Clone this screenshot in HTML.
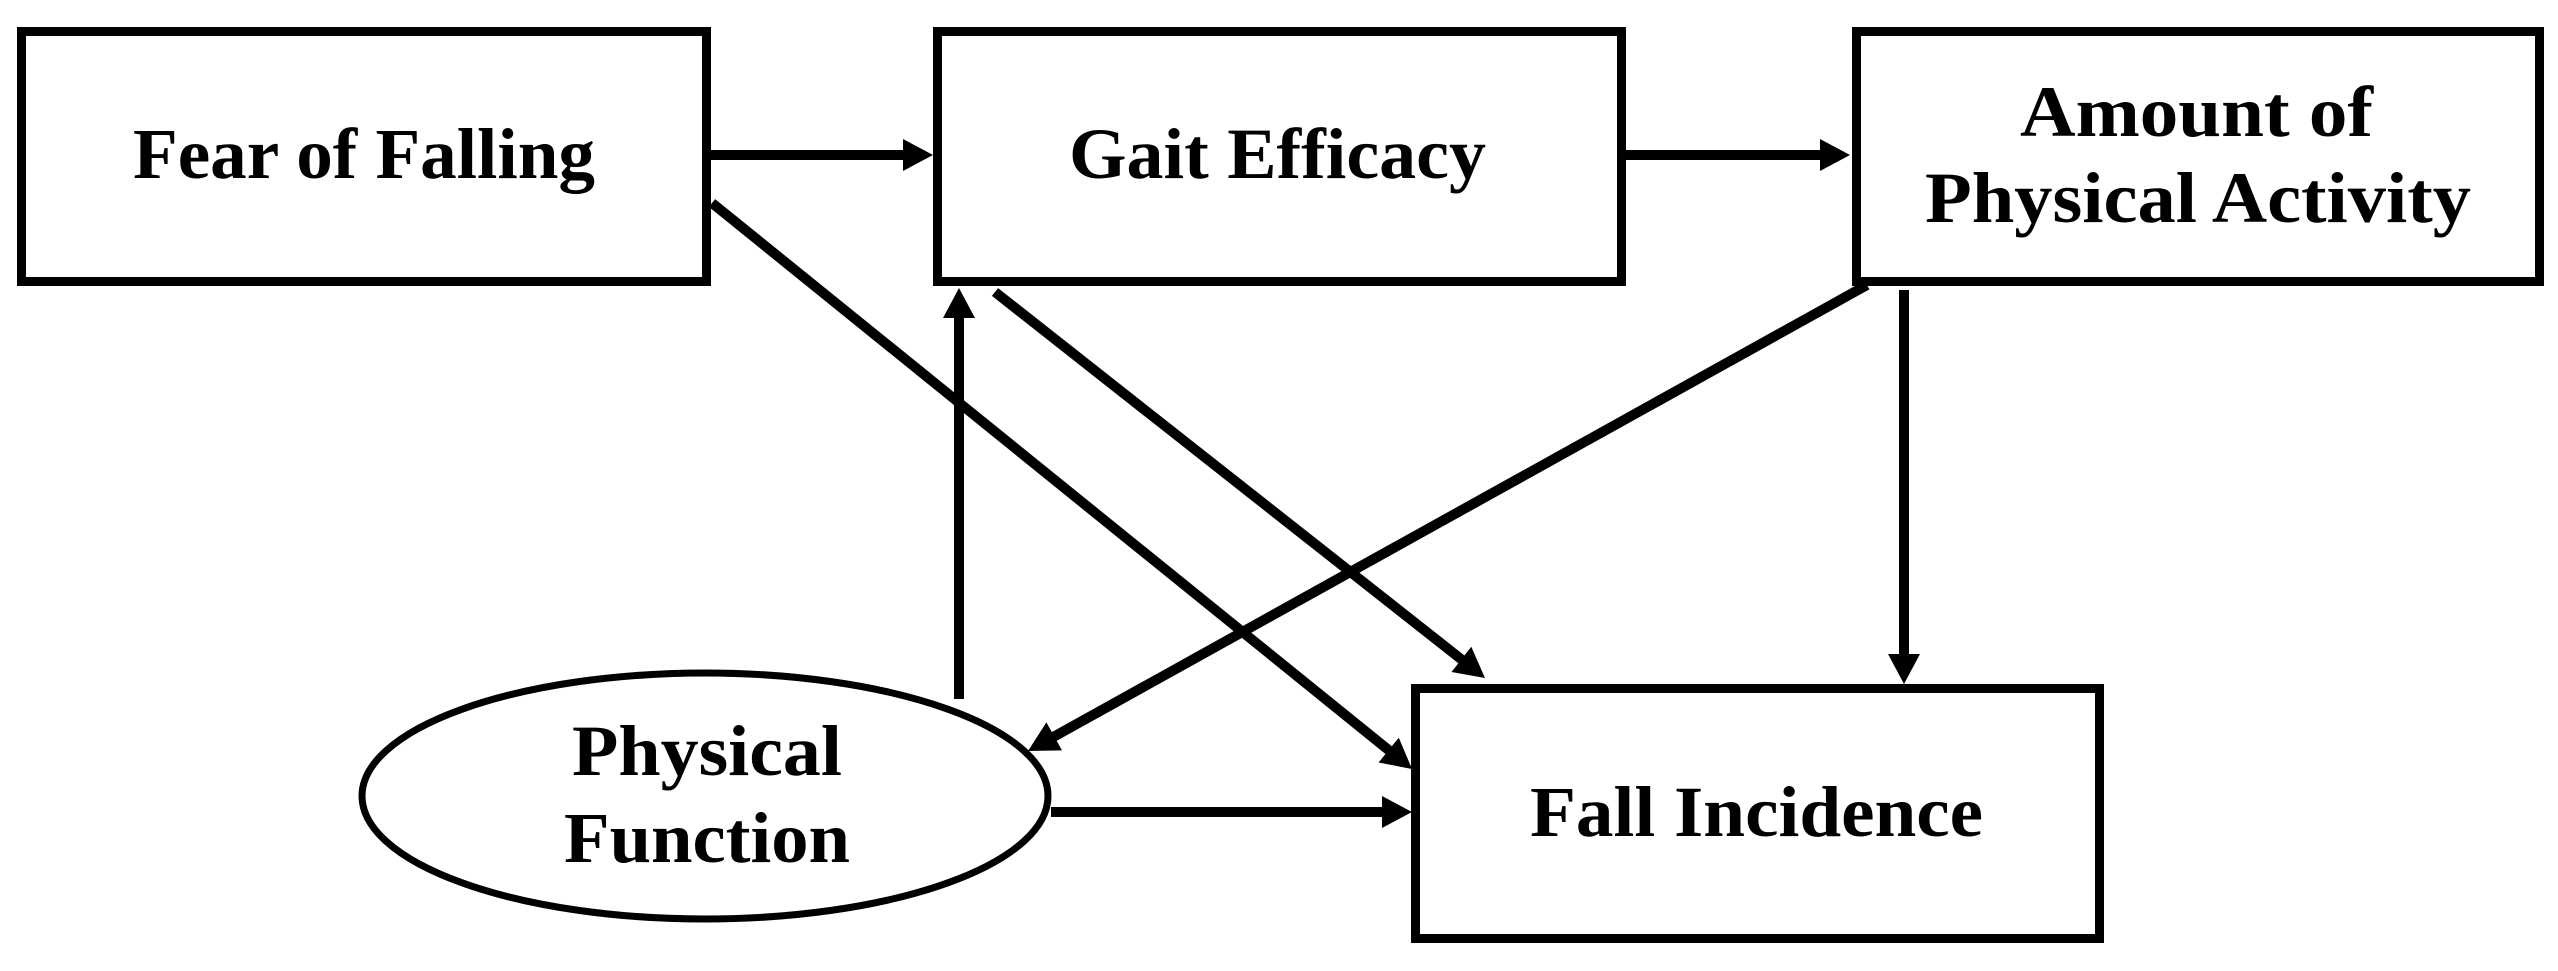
<!DOCTYPE html>
<html><head><meta charset="utf-8"><style>
html,body{margin:0;padding:0;background:#fff;}
svg{display:block;}
text{font-family:"Liberation Serif",serif;font-weight:bold;font-size:72px;fill:#000;}
</style></head><body>
<svg width="2558" height="971" viewBox="0 0 2558 971" xmlns="http://www.w3.org/2000/svg">
<rect width="2558" height="971" fill="#fff"/>
<g fill="none" stroke="#000" stroke-width="9">
<rect x="21.5" y="31.5" width="685" height="250"/>
<rect x="937.5" y="31.5" width="684" height="250"/>
<rect x="1856.5" y="31.5" width="683" height="250"/>
<rect x="1415.5" y="688.5" width="684" height="250"/>
</g>
<ellipse cx="705" cy="796" rx="343" ry="123" fill="none" stroke="#000" stroke-width="7"/>
<g stroke="#000" stroke-width="10" fill="none">
<line x1="711" y1="155" x2="905" y2="155"/>
<line x1="1626" y1="155" x2="1822" y2="155"/>
<line x1="959" y1="699" x2="959" y2="315"/>
<line x1="1904" y1="290" x2="1904" y2="658"/>
<line x1="1051" y1="812" x2="1386" y2="812"/>
<line x1="712" y1="203" x2="1392.6" y2="753.3"/>
<line x1="995" y1="292" x2="1465.4" y2="662.5"/>
<line x1="1867" y1="285" x2="1049.9" y2="738.9"/>
</g>
<g fill="#000">
<polygon points="933,155 903,139 903,171"/>
<polygon points="1850,155 1820,139 1820,171"/>
<polygon points="959,288 943,318 975,318"/>
<polygon points="1904,684 1888,654 1920,654"/>
<polygon points="1412,812 1382,796 1382,828"/>
<polygon points="1412,769 1378.6,762.5 1398.8,737.7"/>
<polygon points="1485,678 1451.5,672 1471.3,646.8"/>
<polygon points="1028,751 1046.4,722.4 1062,750.4"/>
</g>
<text x="133" y="178" textLength="462" lengthAdjust="spacingAndGlyphs">Fear of Falling</text>
<text x="1069" y="178" textLength="417" lengthAdjust="spacingAndGlyphs">Gait Efficacy</text>
<text x="2020" y="136" textLength="353" lengthAdjust="spacingAndGlyphs">Amount of</text>
<text x="1925" y="222" textLength="546" lengthAdjust="spacingAndGlyphs">Physical Activity</text>
<text x="572" y="775" textLength="270" lengthAdjust="spacingAndGlyphs">Physical</text>
<text x="564" y="862" textLength="286" lengthAdjust="spacingAndGlyphs">Function</text>
<text x="1530" y="836" textLength="453" lengthAdjust="spacingAndGlyphs">Fall Incidence</text>
</svg>
</body></html>
